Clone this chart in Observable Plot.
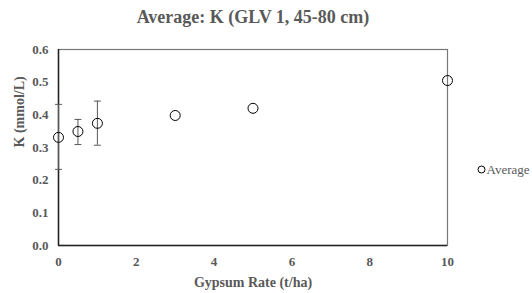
<!DOCTYPE html>
<html><head><meta charset="utf-8">
<script src="https://cdn.jsdelivr.net/npm/d3@7"></script>
<script src="https://cdn.jsdelivr.net/npm/@observablehq/plot@0.6"></script>
<style>body{margin:0;background:#fff;} svg{display:block;} svg text{font-family:"Liberation Serif","Times New Roman",serif;}
svg g[aria-label$="tick label"]{font-size:13px;}</style>
</head><body><div id="chart"></div>
<script>
const gypsumRate = [0, 0.5, 1, 3, 5, 10];
const averageK = [0.331, 0.349, 0.374, 0.398, 0.42, 0.505];
const errLow = [0.233, 0.309, 0.307, 0.393, 0.415, 0.5];
const errHigh = [0.432, 0.386, 0.442, 0.403, 0.425, 0.51];
const xTicks = [0, 2, 4, 6, 8, 10];
const yTicks = [0, 0.1, 0.2, 0.3, 0.4, 0.5, 0.6];
const titleText = "Average: K (GLV 1, 45-80 cm)";
const xLabel = "Gypsum Rate (t/ha)";
const yLabel = "K (mmol/L)";
const seriesName = "Average";

const data = gypsumRate.map((x, i) => ({x, y: averageK[i], lo: errLow[i], hi: errHigh[i]}));
const errData = data.filter(d => d.hi - d.lo > 0.02);
const capData = errData.flatMap(d => [{x: d.x, y: d.lo}, {x: d.x, y: d.hi}]);
const gray = "#595959";
const font = "Liberation Serif";
// horizontal line symbol for error-bar caps
const capSymbol = {draw(ctx, size) { const w = Math.sqrt(size); ctx.moveTo(-w / 2, 0); ctx.lineTo(w / 2, 0); }};

const chart = Plot.plot({
  width: 532, height: 293,
  marginLeft: 58, marginRight: 85, marginTop: 49, marginBottom: 48,
  style: {fontFamily: font, fontSize: "13px", background: "#fff"},
  x: {type: "linear", domain: [0, 10], label: null},
  y: {type: "linear", domain: [0, 0.6], label: null},
  marks: [
    Plot.axisX({ticks: xTicks, tickSize: 0, tickPadding: 11, fontWeight: "bold", fontSize: 13, fill: gray, tickFormat: d => d, label: null}),
    Plot.axisY({ticks: yTicks, tickSize: 0, tickPadding: 10, fontWeight: "bold", fontSize: 13, fill: gray, tickFormat: d => d.toFixed(1), label: null}),
    Plot.frame({stroke: "#777", strokeWidth: 1.2}),
    Plot.ruleX([0], {stroke: "#222", strokeWidth: 1.5}),
    Plot.ruleY([0], {stroke: "#222", strokeWidth: 1.5}),
    Plot.ruleX(errData, {x: "x", y1: "lo", y2: "hi", stroke: gray, strokeWidth: 1}),
    Plot.dot(capData, {x: "x", y: "y", symbol: capSymbol, r: 3.9, stroke: gray, strokeWidth: 1, fill: "none"}),
    Plot.dot(data, {x: "x", y: "y", r: 5, stroke: "#000", strokeWidth: 1, fill: "none"}),
    Plot.text([titleText], {frameAnchor: "top", lineAnchor: "middle", dy: -32, fontSize: 18, fontWeight: "bold", fill: gray}),
    Plot.text([xLabel], {frameAnchor: "bottom", lineAnchor: "middle", dy: 37, fontSize: 14, fontWeight: "bold", fill: gray}),
    Plot.text([yLabel], {frameAnchor: "left", dx: -39, rotate: -90, fontSize: 14, fontWeight: "bold", fill: gray}),
    Plot.dot([seriesName], {frameAnchor: "right", dx: 34, dy: 22, r: 3.5, stroke: "#000", strokeWidth: 1, fill: "none"}),
    Plot.text([seriesName], {frameAnchor: "right", dx: 39, dy: 22, textAnchor: "start", fontSize: 13, fill: gray})
  ]
});
document.getElementById("chart").appendChild(chart);
</script></body></html>
